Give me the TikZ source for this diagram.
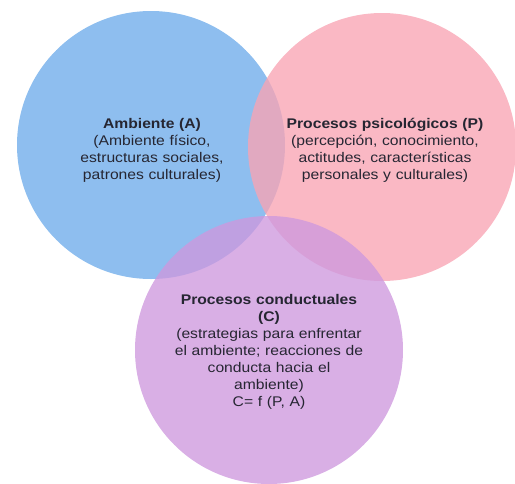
\documentclass[tikz,border=0pt]{standalone}
\usepackage{fontspec}
\setmainfont{Liberation Sans}[FakeStretch=1.12]
\usepackage{tikz}
\usetikzlibrary{positioning}
\definecolor{ambblue}{RGB}{110,172,234}
\definecolor{psipink}{RGB}{248,164,180}
\definecolor{conpurple}{RGB}{206,152,222}
\definecolor{txtgray}{RGB}{38,38,50}

\begin{document}
\begin{tikzpicture}[x=1pt,y=-1pt,
    every node/.style={font=\fontsize{14}{17}\selectfont,text=txtgray},
    setcircle/.style={circle,minimum size=268pt,inner sep=0pt,fill opacity=0.78,draw=none},
    settext/.style={align=center,text width=#1}]
    \useasboundingbox (0,0) rectangle (515,483);
    \node[setcircle,fill=ambblue] (amb) at (151,145) {};
    \node[setcircle,fill=psipink] (psi) at (382,147) {};
    \node[setcircle,fill=conpurple] (con) at (269,350) {};
    \node[settext=200pt] (ambtxt) at (152,150) {\textbf{Ambiente (A)}\\(Ambiente físico,\\estructuras sociales,\\patrones culturales)};
    \node[settext=230pt] (psitxt) at (385,150) {\textbf{Procesos psicológicos (P)}\\(percepción, conocimiento,\\actitudes, características\\personales y culturales)};
    \node[settext=220pt] (contxt) at (269,352) {\textbf{Procesos conductuales}\\\textbf{(C)}\\(estrategias para enfrentar\\el ambiente; reacciones de\\conducta hacia el\\ambiente)\\C= f (P, A)};
\end{tikzpicture}
\end{document}
